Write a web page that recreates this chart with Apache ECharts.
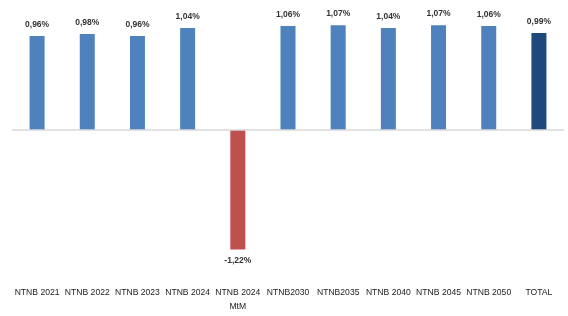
<!DOCTYPE html>
<html><head><meta charset="utf-8">
<script src="https://cdn.jsdelivr.net/npm/echarts@6/dist/echarts.min.js"></script>
<style>html,body{margin:0;padding:0;background:#fff}#c{width:568px;height:316px}</style>
</head><body><div id="c"></div>
<script>
const categories = ['NTNB 2021','NTNB 2022','NTNB 2023','NTNB 2024','NTNB 2024\nMtM','NTNB2030','NTNB2035','NTNB 2040','NTNB 2045','NTNB 2050','TOTAL'];
const values = [0.96, 0.98, 0.96, 1.04, -1.22, 1.06, 1.07, 1.04, 1.07, 1.06, 0.99];
const barColors = ['#4F81BD','#4F81BD','#4F81BD','#4F81BD','#C0504D','#4F81BD','#4F81BD','#4F81BD','#4F81BD','#4F81BD','#1F497D'];

const chart = echarts.init(document.getElementById('c'));
chart.setOption({
  animation: false,
  grid: {left: 12, right: 4, top: 2.6, bottom: 58.6, containLabel: false},
  xAxis: {
    type: 'category', data: categories,
    axisLine: {show: false, onZero: false},
    axisTick: {show: false},
    axisLabel: {interval: 0, hideOverlap: false, margin: 28, fontSize: 8.6, color: '#222',
      fontFamily: 'Liberation Sans', lineHeight: 14, verticalAlign: 'top'}
  },
  yAxis: {type: 'value', min: -1.3, max: 1.3, show: false, splitLine: {show: false}},
  series: [{
    type: 'bar', barWidth: 15,
    data: values.map((v, i) => ({value: v, itemStyle: {color: barColors[i]},
      label: {position: v < 0 ? 'bottom' : 'top'}})),
    label: {show: true, distance: 7, fontSize: 8.5, fontWeight: 'bold', color: '#333',
      fontFamily: 'Liberation Sans',
      formatter: p => p.value.toFixed(2).replace('.', ',') + '%'},
    markLine: {silent: true, symbol: 'none', label: {show: false},
      lineStyle: {color: '#d9d9d9', type: 'solid', width: 1.5},
      data: [{yAxis: 0}]}
  }]
});
</script></body></html>
